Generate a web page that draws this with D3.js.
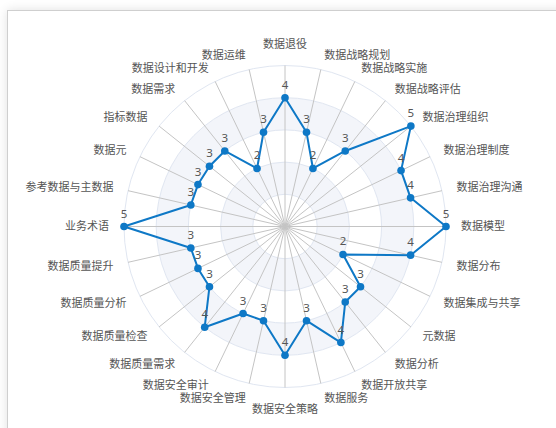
<!DOCTYPE html>
<html>
<head>
<meta charset="utf-8">
<script src="https://cdn.jsdelivr.net/npm/d3@7"></script>
<style>
  body { margin: 0; background: #fff; overflow: hidden; }
  #card {
    position: absolute; left: 7px; top: 10px; width: 600px; height: 460px;
    border: 1px solid #cfcfcf; background: #fff;
    box-shadow: 0 0 10px rgba(0,0,0,0.12);
  }
  #chart { position: absolute; left: 0; top: 0; }
</style>
</head>
<body>
<div id="card"></div>
<div id="chart"></div>
<script>
var svgWidth = 556;
var svgHeight = 428;

// indicator names, clockwise from the top
var indicators = ["数据退役", "数据战略规划", "数据战略实施", "数据战略评估", "数据治理组织",
  "数据治理制度", "数据治理沟通", "数据模型", "数据分布", "数据集成与共享", "元数据",
  "数据分析", "数据开放共享", "数据服务", "数据安全策略", "数据安全管理", "数据安全审计",
  "数据质量需求", "数据质量检查", "数据质量分析", "数据质量提升", "业务术语",
  "参考数据与主数据", "数据元", "指标数据", "数据需求", "数据设计和开发", "数据运维"];

var scores = [4, 3, 2, 3, 5, 4, 4, 5, 4, 2, 3, 3, 4, 3, 4, 3, 3, 4, 3, 3, 3, 5, 3, 3, 3, 3, 2, 3];

var maxScore = 5;
var rings = [1, 2, 3, 4, 5];

var cx = 285, cy = 226.5, radius = 161;
var lineColor = "#0e78c6";

var svg = d3.select("#chart").append("svg")
  .attr("width", svgWidth)
  .attr("height", svgHeight);

var g = svg.append("g").attr("transform", `translate(${cx}, ${cy})`);

var rScale = d3.scaleLinear().domain([0, maxScore]).range([0, radius]);
var aScale = d3.scaleLinear().domain([0, indicators.length]).range([0, 2 * Math.PI]);

function px(i, v) { return rScale(v) * Math.sin(aScale(i)); }
function py(i, v) { return -rScale(v) * Math.cos(aScale(i)); }

// split areas (alternating bands)
var arc = d3.arc();
g.selectAll(".band")
  .data(rings)
  .enter().append("path")
  .attr("d", d => arc({innerRadius: rScale(d - 1), outerRadius: rScale(d), startAngle: 0, endAngle: 2 * Math.PI}))
  .attr("fill", (d, i) => i % 2 ? "#f3f5fa" : "#ffffff");

// split lines
g.selectAll(".ring")
  .data(rings)
  .enter().append("circle")
  .attr("r", d => rScale(d))
  .attr("fill", "none")
  .attr("stroke", "#e0e6f1")
  .attr("stroke-width", 1);

// spokes
g.selectAll(".spoke")
  .data(indicators)
  .enter().append("line")
  .attr("x1", 0).attr("y1", 0)
  .attr("x2", (d, i) => px(i, maxScore))
  .attr("y2", (d, i) => py(i, maxScore))
  .attr("stroke", "#c4c4c4")
  .attr("stroke-width", 1);

// indicator names
g.selectAll(".name")
  .data(indicators)
  .enter().append("text")
  .attr("x", (d, i) => (rScale(maxScore) + 15) * Math.sin(aScale(i)))
  .attr("y", (d, i) => -(rScale(maxScore) + 15) * Math.cos(aScale(i)))
  .attr("text-anchor", (d, i) => {
    var s = Math.sin(aScale(i));
    return Math.abs(s) < 0.01 ? "middle" : (s > 0 ? "start" : "end");
  })
  .attr("dy", (d, i) => {
    var c = Math.cos(aScale(i)), s = Math.sin(aScale(i));
    if (Math.abs(s) < 0.01) return c > 0 ? "-0.25em" : "0.95em";
    return "0.35em";
  })
  .attr("font-family", "'Noto Sans CJK SC', 'Noto Sans', sans-serif")
  .attr("font-size", "11px")
  .attr("fill", "#555")
  .text(d => d);

// score polygon
var line = d3.lineRadial()
  .angle((d, i) => aScale(i))
  .radius(d => rScale(d))
  .curve(d3.curveLinearClosed);

g.append("path")
  .datum(scores)
  .attr("d", line)
  .attr("fill", "none")
  .attr("stroke", lineColor)
  .attr("stroke-width", 2)
  .attr("stroke-linejoin", "round");

g.selectAll(".dot")
  .data(scores)
  .enter().append("circle")
  .attr("cx", (d, i) => px(i, d))
  .attr("cy", (d, i) => py(i, d))
  .attr("r", 3.8)
  .attr("fill", lineColor);

g.selectAll(".val")
  .data(scores)
  .enter().append("text")
  .attr("x", (d, i) => px(i, d))
  .attr("y", (d, i) => py(i, d) - 9)
  .attr("text-anchor", "middle")
  .attr("font-family", "'Noto Sans', 'DejaVu Sans', sans-serif")
  .attr("font-size", "11.5px")
  .attr("fill", "#555")
  .text(d => d);
</script>
</body>
</html>
